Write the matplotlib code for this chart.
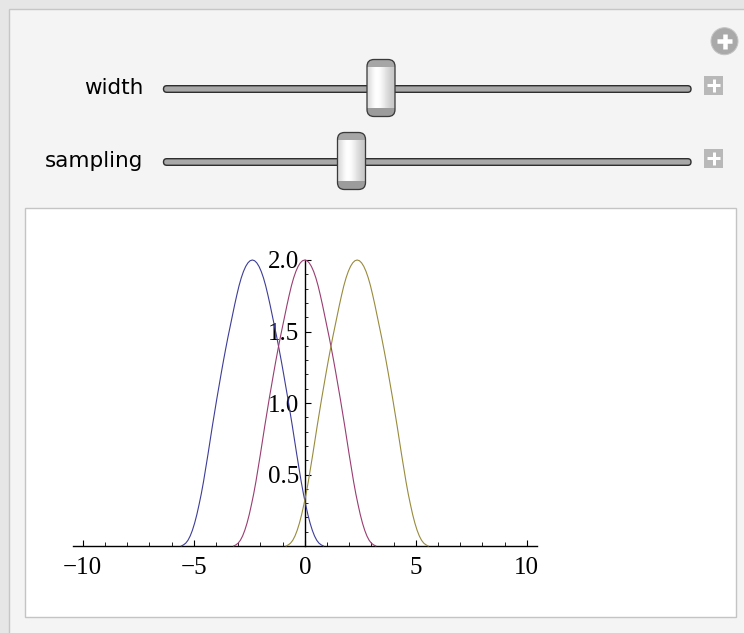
import matplotlib
matplotlib.use("Agg")
import numpy as np
import matplotlib.pyplot as plt
from matplotlib.patches import FancyBboxPatch, Rectangle, Circle
from matplotlib.ticker import MultipleLocator, FixedLocator

# --- data ------------------------------------------------------------------
blue_x = [-5.56, -5.46, -5.36, -5.26, -5.16, -5.06, -4.96, -4.86, -4.76, -4.66,
          -4.56, -4.46, -4.36, -4.26, -4.16, -4.06, -3.96, -3.86, -3.76, -3.66,
          -3.56, -3.46, -3.36, -3.26, -3.16, -3.06, -2.96, -2.86, -2.76, -2.66,
          -2.56, -2.46, -2.36, -2.26, -2.16, -2.06, -1.96, -1.86, -1.76, -1.66,
          -1.56, -1.46, -1.36, -1.26, -1.16, -1.06, -0.96, -0.86, -0.76, -0.66,
          -0.56, -0.46, -0.36, -0.26, -0.16, -0.06, 0.04, 0.14, 0.24, 0.34,
          0.44, 0.54, 0.64, 0.74, 0.84]
pink_x = [-3.2, -3.1, -3.0, -2.9, -2.8, -2.7, -2.6, -2.5, -2.4, -2.3, -2.2,
          -2.1, -2.0, -1.9, -1.8, -1.7, -1.6, -1.5, -1.4, -1.3, -1.2, -1.1,
          -1.0, -0.9, -0.8, -0.7, -0.6, -0.5, -0.4, -0.3, -0.2, -0.1, 0.0,
          0.1, 0.2, 0.3, 0.4, 0.5, 0.6, 0.7, 0.8, 0.9, 1.0, 1.1, 1.2, 1.3,
          1.4, 1.5, 1.6, 1.7, 1.8, 1.9, 2.0, 2.1, 2.2, 2.3, 2.4, 2.5, 2.6,
          2.7, 2.8, 2.9, 3.0, 3.1, 3.2]
gold_x = [-0.84, -0.74, -0.64, -0.54, -0.44, -0.34, -0.24, -0.14, -0.04, 0.06,
          0.16, 0.26, 0.36, 0.46, 0.56, 0.66, 0.76, 0.86, 0.96, 1.06,
          1.16, 1.26, 1.36, 1.46, 1.56, 1.66, 1.76, 1.86, 1.96, 2.06,
          2.16, 2.26, 2.36, 2.46, 2.56, 2.66, 2.76, 2.86, 2.96, 3.06,
          3.16, 3.26, 3.36, 3.46, 3.56, 3.66, 3.76, 3.86, 3.96, 4.06,
          4.16, 4.26, 4.36, 4.46, 4.56, 4.66, 4.76, 4.86, 4.96, 5.06,
          5.16, 5.26, 5.36, 5.46, 5.56]
# all three bumps have the same profile
bump_y = [0.000, 0.008, 0.020, 0.040, 0.070, 0.110, 0.160, 0.220, 0.290,
          0.365, 0.450, 0.545, 0.640, 0.740, 0.840, 0.935, 1.030, 1.120,
          1.210, 1.297, 1.380, 1.460, 1.535, 1.610, 1.685, 1.755, 1.820,
          1.875, 1.920, 1.955, 1.980, 1.995, 2.000,
          1.995, 1.980, 1.955, 1.920, 1.875, 1.820, 1.755, 1.685, 1.610,
          1.535, 1.460, 1.380, 1.297, 1.210, 1.120, 1.030, 0.935, 0.840,
          0.740, 0.640, 0.545, 0.450, 0.365, 0.290, 0.220, 0.160, 0.110,
          0.070, 0.040, 0.020, 0.008, 0.000]
series = [(blue_x, bump_y, "#3d3d99"),
          (pink_x, bump_y, "#993d71"),
          (gold_x, bump_y, "#998b3d")]

x_major = [-10, -5, 0, 5, 10]
y_major = [0.5, 1.0, 1.5, 2.0]

controls = [("width", 89, 381), ("sampling", 162, 351.5)]  # label, track y, thumb centre x

W, H = 744, 633
fig = plt.figure(figsize=(W / 100, H / 100), dpi=100)
fig.patch.set_facecolor("#e6e6e6")

# pixel-space overlay for the Manipulate panel
bg = fig.add_axes([0, 0, 1, 1])
bg.set_xlim(0, W)
bg.set_ylim(H, 0)
bg.axis("off")
PX = 0.72  # one pixel in points

bg.add_patch(Rectangle((8.5, 8.5), 800, 700, fc="#f4f4f4", ec="#c6c6c6", lw=1.4 * PX))
bg.add_patch(Rectangle((24.5, 207.5), 711, 409, fc="white", ec="#c4c4c4", lw=1.4 * PX))

# the round "+" button top right
bg.add_patch(Circle((724.5, 41.2), 13.5, fc="#a9a9a9", ec="#c4c4c4", lw=1 * PX))
bg.plot([717, 732], [41.2, 41.2], color="white", lw=4.5 * PX, solid_capstyle="butt")
bg.plot([724.5, 724.5], [33.7, 48.7], color="white", lw=4.5 * PX, solid_capstyle="butt")

grad = np.array([[0.86, 0.93, 0.99, 1.0, 0.97, 0.92, 0.86, 0.81, 0.78]])

for label, ty, cx in controls:
    bg.text(143, ty - 1, label, ha="right", va="center", fontsize=15.5,
            family="DejaVu Sans", color="black")
    # track
    bg.add_patch(FancyBboxPatch((163.5, ty - 3.3), 527.5, 6.6,
                                boxstyle="round,pad=0,rounding_size=3.3",
                                fc="#a8a8a8", ec="#2e2e2e", lw=1.4 * PX))
    # small "+" box
    bg.add_patch(Rectangle((704, ty - 13.5), 19, 19, fc="#b8b8b8", ec="none"))
    bg.plot([707, 720], [ty - 4, ty - 4], color="white", lw=3 * PX, solid_capstyle="butt")
    bg.plot([713.5, 713.5], [ty - 10.5, ty + 2.5], color="white", lw=3 * PX, solid_capstyle="butt")
    # thumb
    x0, y0, tw, th = cx - 14, ty - 29.5, 28, 57
    knob = FancyBboxPatch((x0, y0), tw, th, boxstyle="round,pad=0,rounding_size=7",
                          fc="none", ec="none")
    bg.add_patch(knob)
    im = bg.imshow(grad, cmap="gray", vmin=0, vmax=1, aspect="auto",
                   extent=(x0, x0 + tw, y0 + th, y0), interpolation="bicubic", zorder=3)
    im.set_clip_path(knob)
    top = Rectangle((x0, y0), tw, 7, fc="#a6a6a6", ec="none", zorder=4)
    bot = Rectangle((x0, y0 + th - 8.5), tw, 8.5, fc="#9c9c9c", ec="none", zorder=4)
    for r in (top, bot):
        bg.add_patch(r)
        r.set_clip_path(knob)
    bg.add_patch(FancyBboxPatch((x0, y0), tw, th, boxstyle="round,pad=0,rounding_size=7",
                                fc="none", ec="#3a3a3a", lw=1.3 * PX, zorder=5))

# --- the plot ---------------------------------------------------------------
ax = fig.add_axes([73.4 / W, (H - 546) / H, 463.6 / W, 286 / H])
ax.patch.set_alpha(0)
for xs, ys, col in series:
    ax.plot(xs, ys, color=col, lw=0.8, clip_on=False, zorder=3)

ax.set_xlim(-10.42, 10.46)
ax.set_ylim(0, 2.0)
for s in ("top", "right"):
    ax.spines[s].set_visible(False)
ax.spines["left"].set_position(("data", 0))
ax.spines["bottom"].set_position(("data", 0))
for s in ("left", "bottom"):
    ax.spines[s].set_linewidth(1.0)
    ax.spines[s].set_zorder(2)

serif = ["Liberation Serif", "DejaVu Serif"]
ax.xaxis.set_major_locator(FixedLocator(x_major))
ax.xaxis.set_minor_locator(MultipleLocator(1))
ax.yaxis.set_major_locator(FixedLocator(y_major))
ax.yaxis.set_minor_locator(MultipleLocator(0.1))
ax.tick_params(axis="x", which="major", direction="in", length=4.5, width=0.8, pad=8)
ax.tick_params(axis="x", which="minor", direction="in", length=3, width=0.6)
ax.tick_params(axis="y", which="major", direction="in", length=4.5, width=0.8, pad=4)
ax.tick_params(axis="y", which="minor", direction="in", length=2.5, width=0.6)
ax.set_xticklabels(["\u221210", "\u22125", "0", "5", "10"])
ax.set_yticklabels(["0.5", "1.0", "1.5", "2.0"])
for t in ax.get_xticklabels() + ax.get_yticklabels():
    t.set_fontfamily(serif)
    t.set_fontsize(18)

fig.savefig("out.png", dpi=100, facecolor=fig.get_facecolor())
